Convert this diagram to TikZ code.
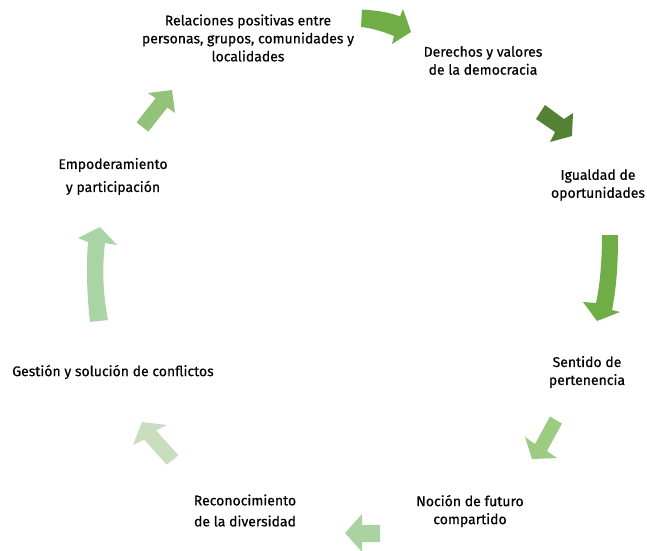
\documentclass[tikz,border=0pt]{standalone}
\usepackage{fontspec}
\setmainfont{Fira Sans}
\newfontfamily\lblfont{Fira Sans}[FakeBold=0.5]
\definecolor{gA}{HTML}{70AD47}
\definecolor{gB}{HTML}{548235}
\definecolor{gC}{HTML}{9CCB82}
\definecolor{gD}{HTML}{A9D3A0}
\definecolor{gE}{HTML}{C9DEBF}
\definecolor{gF}{HTML}{A9D4A5}
\definecolor{gG}{HTML}{93C27A}
\tikzset{
  lbl/.style={align=center, inner sep=0pt, text=black, font=\lblfont\fontsize{14}{18}\selectfont},
  blk/.style={draw=none}
}
\begin{document}
\begin{tikzpicture}[x=1pt,y=-1pt]
\useasboundingbox (0,0) rectangle (647,550);
% arrows
\fill[gA] (362,9.5) .. controls (378,10.5) and (390,12.5) .. (400,16.5) -- (403,9) -- (411,32) -- (392,44) -- (394,36) .. controls (384,32) and (372,28) .. (361,27) -- cycle;
\fill[gB] (545,105) -- (564,119) -- (573,113) -- (572,136) -- (550,142) -- (555,132) -- (536,119) -- cycle;
\fill[gA] (602,235) -- (618,235) .. controls (618,260) and (617,285) .. (612,310) -- (620,312) -- (597,321) -- (583,302) -- (596,303) .. controls (600,285) and (602,260) .. cycle;
\fill[gC] (550,416.5) -- (562,423.5) -- (547,451) -- (557,458) -- (532,459) -- (525,437) -- (535,444) -- cycle;
\fill[gD] (380,525) -- (380,542) -- (362,542) -- (362,552) -- (345,533) -- (362,514) -- (362,525) -- cycle;
\fill[gE] (178.4,455.3) -- (166.7,464.7) -- (144.2,439.7) -- (133,445) -- (142,422) -- (167,425) -- (155.9,430.3) -- cycle;
\fill[gF] (90,322) .. controls (87,295) and (86,268) .. (88,242) -- (78,238) -- (100,227) -- (117,245) -- (105,243) .. controls (102,268) and (103,295) .. (108,320) -- cycle;
\fill[gG] (136.6,122.3) -- (155.6,98.3) -- (148,93) -- (172,90) -- (175,113) -- (167.3,107.6) -- (148.3,131.6) -- cycle;
% labels
\node[lbl] (n1) at (248,38) {Relaciones positivas entre\\personas, grupos, comunidades y\\localidades};
\node[lbl] (n2) at (483,60.5) {Derechos y valores\\de la democracia};
\node[lbl] (n3) at (598,185) {Igualdad de\\oportunidades};
\node[lbl] (n4) at (587,372) {Sentido de\\pertenencia};
\node[lbl] (n5) at (470,511) {Noción de futuro\\compartido};
\node[lbl] (n6) at (245,510.5) {Reconocimiento\\[3pt]de la diversidad};
\node[lbl] (n7) at (113,372) {Gestión y solución de conflictos};
\node[lbl] (n8) at (113,176.5) {Empoderamiento\\[5pt]y participación};
\end{tikzpicture}
\end{document}
